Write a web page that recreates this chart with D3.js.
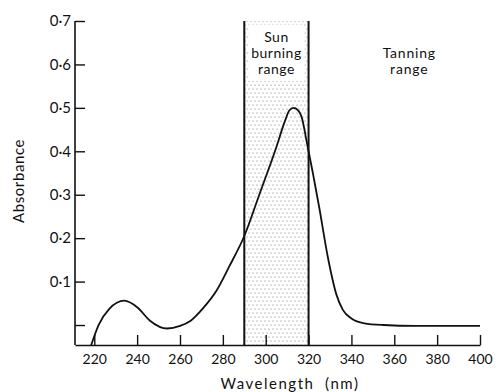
<!DOCTYPE html>
<html>
<head>
<meta charset="utf-8">
<script src="https://cdn.jsdelivr.net/npm/d3@7"></script>
<style>
  body { margin: 0; background: #fff; }
  text { font-family: Lato, "DejaVu Sans", sans-serif; fill: #111; }
</style>
</head>
<body>
<script>
// absorbance spectrum
var wavelength = [218.5, 222, 227, 234, 240, 246, 254, 260, 265, 271, 277, 283, 290, 297, 305, 309, 311, 313, 315, 317, 319, 322, 325, 329, 333, 336, 340, 346, 355, 370, 400];
var absorbance = [-0.047, 0.0, 0.037, 0.056, 0.041, 0.01, -0.008, -0.002, 0.01, 0.04, 0.079, 0.135, 0.205, 0.30, 0.41, 0.47, 0.494, 0.50, 0.495, 0.475, 0.425, 0.35, 0.27, 0.156, 0.07, 0.035, 0.015, 0.004, 0.0, -0.002, -0.002];

var xTicks = [220, 240, 260, 280, 300, 320, 340, 360, 380, 400];
var yTicks = [0, 0.1, 0.2, 0.3, 0.4, 0.5, 0.6, 0.7];
var yTickLabels = ["", "0·1", "0·2", "0·3", "0·4", "0·5", "0·6", "0·7"];

var burnRange = [290, 320];
var burnLabel = ["Sun", "burning", "range"];
var tanLabel = ["Tanning", "range"];
var tanX = 367;  // wavelength where the tanning label sits

var width = 498, height = 392;

var svg = d3.select("body").append("svg")
    .attr("width", width)
    .attr("height", height);

var x = d3.scaleLinear().domain([211, 400]).range([75, 480]);
var y = d3.scaleLinear().domain([-0.046, 0.7]).range([345, 21]);

// stipple for the sun burning band
var defs = svg.append("defs");
var pat = defs.append("pattern")
    .attr("id", "dots")
    .attr("patternUnits", "userSpaceOnUse")
    .attr("width", 4).attr("height", 8);
pat.append("circle").attr("cx", 1).attr("cy", 1).attr("r", 0.6).attr("fill", "#666");
pat.append("circle").attr("cx", 3).attr("cy", 5).attr("r", 0.6).attr("fill", "#666");

svg.append("rect")
    .attr("x", x(burnRange[0]))
    .attr("y", y(0.7))
    .attr("width", x(burnRange[1]) - x(burnRange[0]))
    .attr("height", y.range()[0] - y(0.7))
    .attr("fill", "url(#dots)");

// white patch behind the band label
svg.append("rect")
    .attr("x", x(burnRange[0]) + 4)
    .attr("y", y(0.7) + 4)
    .attr("width", x(burnRange[1]) - x(burnRange[0]) - 8)
    .attr("height", 56)
    .attr("fill", "#fff");

burnRange.forEach(function(w) {
    svg.append("line")
        .attr("x1", x(w)).attr("x2", x(w))
        .attr("y1", y(0.7)).attr("y2", y.range()[0])
        .attr("stroke", "#111").attr("stroke-width", 2);
});

var cx = (x(burnRange[0]) + x(burnRange[1])) / 2;
svg.selectAll(".burn")
    .data(burnLabel)
    .enter().append("text")
    .attr("class", "burn")
    .attr("x", cx)
    .attr("y", (d, i) => 42 + i * 16)
    .attr("text-anchor", "middle")
    .style("font-size", "14px")
    .style("letter-spacing", "0.5px")
    .text(d => d);

svg.selectAll(".tan")
    .data(tanLabel)
    .enter().append("text")
    .attr("class", "tan")
    .attr("x", x(tanX))
    .attr("y", (d, i) => 58 + i * 16)
    .attr("text-anchor", "middle")
    .style("font-size", "14px")
    .style("letter-spacing", "0.8px")
    .text(d => d);

// axes, ticks point inward
var yAxis = d3.axisLeft(y)
    .tickValues(yTicks)
    .tickFormat((d, i) => yTickLabels[i])
    .tickSizeInner(-10)
    .tickSizeOuter(0)
    .tickPadding(4);

var xAxis = d3.axisBottom(x)
    .tickValues(xTicks)
    .tickFormat(d3.format("d"))
    .tickSizeInner(-10)
    .tickSizeOuter(0)
    .tickPadding(9);

var gy = svg.append("g").attr("transform", "translate(75,0)").call(yAxis);
var gx = svg.append("g").attr("transform", "translate(0,345)").call(xAxis);

[gx, gy].forEach(function(g) {
    g.select(".domain").attr("stroke", "#111").attr("stroke-width", 1.6);
    g.selectAll(".tick line").attr("stroke", "#111").attr("stroke-width", 1.4);
    g.selectAll("text").attr("fill", "#111").style("font-family", "Lato, 'DejaVu Sans', sans-serif");
});
gy.select(".domain").attr("d", "M0," + y(0.7) + "V345");
gy.selectAll("text").style("font-size", "15px");
gx.selectAll("text").style("font-size", "14px");

// spectrum
var line = d3.line()
    .x((d, i) => x(wavelength[i]))
    .y(d => y(d))
    .curve(d3.curveMonotoneX);

svg.append("path")
    .datum(absorbance)
    .attr("d", line)
    .attr("fill", "none")
    .attr("stroke", "#111")
    .attr("stroke-width", 1.8);

// axis titles
svg.append("text")
    .attr("transform", "translate(24,181) rotate(-90)")
    .attr("text-anchor", "middle")
    .style("font-size", "15px")
    .style("letter-spacing", "0.6px")
    .text("Absorbance");

svg.append("text")
    .attr("x", 290)
    .attr("y", 389)
    .attr("text-anchor", "middle")
    .style("font-size", "15px")
    .style("letter-spacing", "1.5px")
    .attr("xml:space", "preserve")
    .text("Wavelength  (nm)");
</script>
</body>
</html>
